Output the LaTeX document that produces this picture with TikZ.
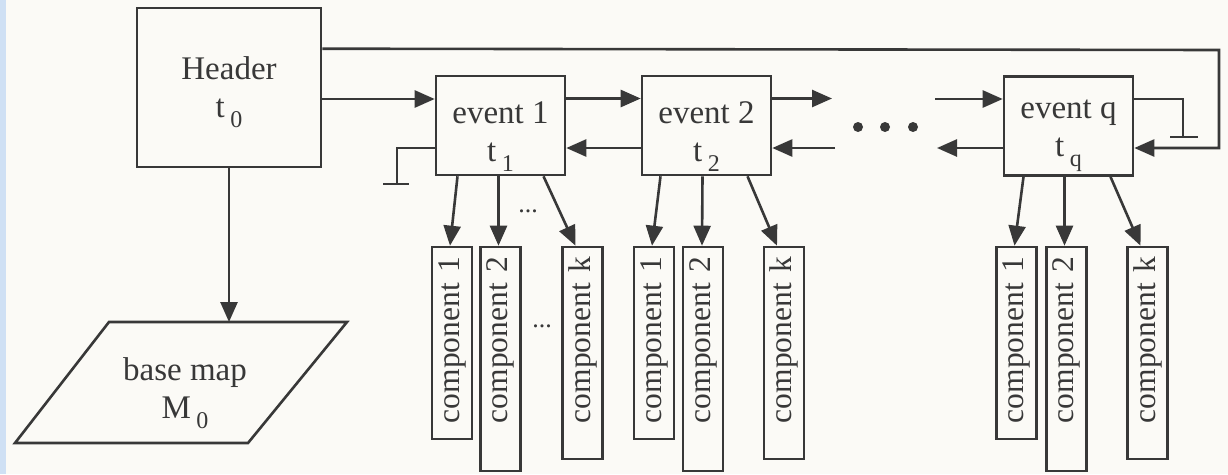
\documentclass[tikz,border=0pt]{standalone}
\usepackage{fontspec}
\setmainfont{Liberation Serif}
\usetikzlibrary{arrows.meta,calc}
\definecolor{ink}{HTML}{383838}
\definecolor{paper}{HTML}{FBFAF6}
\definecolor{edgeblue}{HTML}{CFE0F4}
\newcommand{\lowsub}[1]{\,\raisebox{-0.3em}{\fontsize{24}{24}\selectfont #1}}
\begin{document}
\begin{tikzpicture}[x=1pt,y=-1pt,line width=2.6pt,color=ink,
  box/.style={draw,rectangle,inner sep=0pt},
  lbl/.style={align=center,font=\fontsize{33}{38}\selectfont,inner sep=0pt},
  comp/.style={draw,rotate=90,minimum height=40pt,inner xsep=10pt,inner ysep=0pt,align=right,font=\fontsize{31.5}{31.5}\selectfont},
  arr/.style={-{Triangle[length=20pt,width=17pt]}},
  dots/.style={inner sep=0pt,font=\fontsize{26}{26}\selectfont}]
\useasboundingbox (0,0) rectangle (1228,474);
\fill[paper] (0,0) rectangle (1228,474);
\fill[edgeblue] (0,0) rectangle (6,474);

% main boxes
\node[box,minimum width=184pt,minimum height=159pt] (hdr) at (229,87.5) {};
\node[lbl] (hdrtxt) at (229,92.5) {Header\\t\lowsub{0}};
\node[box,minimum width=129pt,minimum height=99pt] (e1) at (500.5,125.5) {};
\node[lbl] (e1txt) at (500.5,137) {event 1\\t\lowsub{1}};
\node[box,minimum width=129pt,minimum height=99pt] (e2) at (706.5,125.5) {};
\node[lbl] (e2txt) at (706.5,137) {event 2\\t\lowsub{2}};
\node[box,minimum width=129pt,minimum height=99pt] (eq) at (1068.5,126) {};
\node[lbl] (eqtxt) at (1068.5,136) {event q\\t\lowsub{q}};

% base map
\draw (109,322) -- (347,322) -- (248,443) -- (15,443) -- cycle;
\coordinate (bmtop) at (229,322);
\node[lbl] (bmtxt) at (185,393.5) {base map\\M\lowsub{0}};
\draw[arr] (hdr.south) -- (bmtop);

% components
\node[comp,text width=172pt] (a1) at (452,343) {component 1};
\node[comp,text width=204pt] (a2) at (500.5,359) {component 2};
\node[comp,text width=192pt] (ak) at (582.5,353) {component k};
\node[comp,text width=172pt] (b1) at (654,343) {component 1};
\node[comp,text width=204pt] (b2) at (703,359) {component 2};
\node[comp,text width=192pt] (bk) at (784,353) {component k};
\node[comp,text width=172pt] (q1) at (1016.5,343) {component 1};
\node[comp,text width=204pt] (q2) at (1066.5,359) {component 2};
\node[comp,text width=192pt] (qk) at (1147.5,353) {component k};

\draw[arr] ($(e1.south)+(-43,0)$) -- ($(a1.east)+(-2,0)$);
\draw[arr] ($(e1.south)+(-2,0)$) -- ($(a2.east)+(-2,0)$);
\draw[arr] ($(e1.south)+(43,0)$) -- ($(ak.east)+(-7,0)$);
\draw[arr] ($(e2.south)+(-46,0)$) -- ($(b1.east)+(-2,0)$);
\draw[arr] ($(e2.south)+(-4,0)$) -- ($(b2.east)+(-1,0)$);
\draw[arr] ($(e2.south)+(41,0)$) -- ($(bk.east)+(-7,0)$);
\draw[arr] ($(eq.south)+(-45,0)$) -- ($(q1.east)+(-2,0)$);
\draw[arr] ($(eq.south)+(-4,0)$) -- ($(q2.east)+(-2,0)$);
\draw[arr] ($(eq.south)+(42,0)$) -- ($(qk.east)+(-7,0)$);

\node[dots] (d1) at (528,211) {...};
\node[dots] (d2) at (542,326) {...};

% chain connectors
\coordinate (ltop) at (1219,50);
\coordinate (lbot) at (1219,148);
\draw[arr] ($(hdr.north east)+(0,42)$) -- (ltop) -- (lbot) -- ($(eq.east)+(0,22)$);
\draw[arr] ($(hdr.east)+(0,11.5)$) -- ($(e1.west)+(0,-26.5)$);
\draw[arr] ($(e1.east)+(0,-27)$) -- ($(e2.west)+(0,-27)$);
\coordinate (f2) at (832,98.5);
\draw[arr] ($(e2.east)+(0,-27)$) -- (f2);
\coordinate (r2) at (835,148);
\draw[arr] (r2) -- ($(e2.east)+(0,22.5)$);
\draw[arr] ($(e2.west)+(0,22.5)$) -- ($(e1.east)+(0,22.5)$);
\coordinate (fq) at (935,99);
\draw[arr] (fq) -- ($(eq.west)+(0,-27)$);
\coordinate (rq) at (937,148);
\draw[arr] ($(eq.west)+(0,22)$) -- (rq);

% grounds
\coordinate (g1) at (397,184);
\coordinate (g1l) at (383,184);
\coordinate (g1r) at (409,184);
\draw ($(e1.west)+(0,22.5)$) -| (g1);
\draw (g1l) -- (g1r);
\coordinate (g2) at (1183,137);
\coordinate (g2l) at (1170,137);
\coordinate (g2r) at (1198,137);
\draw ($(eq.east)+(0,-27)$) -| (g2);
\draw (g2l) -- (g2r);

% ellipsis
\fill (858,127) circle (5pt);
\fill (885,127) circle (5pt);
\fill (913,127) circle (5pt);
\end{tikzpicture}
\end{document}
